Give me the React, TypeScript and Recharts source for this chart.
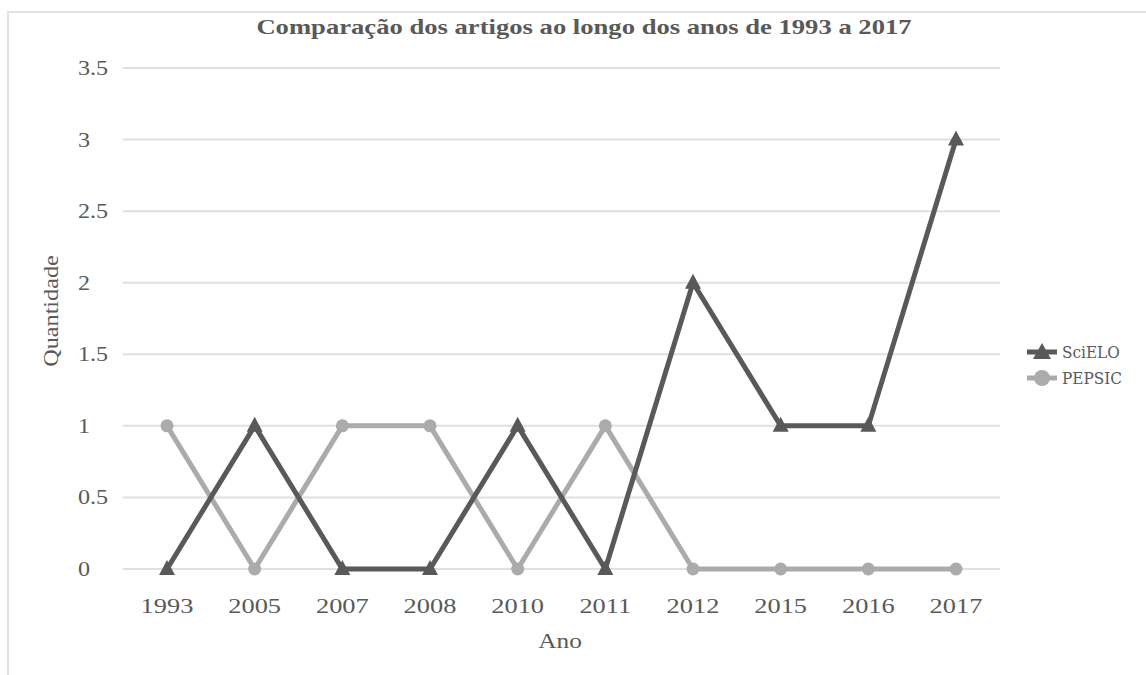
import React from 'react';
import { LineChart, Line, XAxis, YAxis, CartesianGrid } from 'recharts';

const years = ['1993', '2005', '2007', '2008', '2010', '2011', '2012', '2015', '2016', '2017'];
const scielo = [0, 1, 0, 0, 1, 0, 2, 1, 1, 3];
const pepsic = [1, 0, 1, 1, 0, 1, 0, 0, 0, 0];
const yTicks = [0, 0.5, 1, 1.5, 2, 2.5, 3, 3.5];

const DARK = '#595959';
const LIGHT = '#ababab';
const SERIF = '"Liberation Serif", "Times New Roman", serif';

const chartData = years.map((year, i) => ({ year, scielo: scielo[i], pepsic: pepsic[i] }));

const Triangle = (props: any) => {
  const { cx, cy } = props;
  if (cx == null || cy == null) return null;
  return <path d={`M${cx},${cy - 9} L${cx + 8},${cy + 6} L${cx - 8},${cy + 6} Z`} fill={DARK} />;
};

const Dot = (props: any) => {
  const { cx, cy } = props;
  if (cx == null || cy == null) return null;
  return <circle cx={cx} cy={cy} r={6.5} fill={LIGHT} />;
};

const XTick = ({ x, y, payload }: any) => (
  <text x={x} y={y + 36} textAnchor="middle" fill={DARK} fontSize={22} fontFamily={SERIF}
    transform={`translate(${x},0) scale(1.2,1) translate(${-x},0)`}>
    {payload.value}
  </text>
);

const YTick = ({ y, payload }: any) => (
  <text x={78} y={y + 7} textAnchor="start" fill={DARK} fontSize={21} fontFamily={SERIF}
    transform="translate(78,0) scale(1.15,1) translate(-78,0)">
    {payload.value}
  </text>
);

const legendItems = [
  { name: 'SciELO', color: DARK, shape: 'triangle' },
  { name: 'PEPSIC', color: LIGHT, shape: 'circle' },
];

export default function App() {
  return (
    <div style={{ position: 'fixed', left: 0, top: 0, width: 1146, height: 675, background: '#fff', overflow: 'hidden' }}>
      <div style={{
        position: 'absolute', left: 7, top: 11, right: -2, bottom: -2,
        borderTop: '2px solid #e3e3e3', borderLeft: '2px solid #e3e3e3',
      }} />
      <div style={{
        position: 'absolute', left: 0, width: 1168, top: 14, textAlign: 'center',
        fontFamily: SERIF, fontWeight: 700, fontSize: 22, color: DARK,
        transform: 'scaleX(1.21)', transformOrigin: '584px 0',
      }}>
        Comparação dos artigos ao longo dos anos de 1993 a 2017
      </div>
      <div style={{
        position: 'absolute', left: 51, top: 311, fontFamily: SERIF, fontSize: 22, color: DARK,
        transform: 'translate(-50%, -50%) rotate(-90deg) scaleX(1.1)', whiteSpace: 'nowrap',
      }}>
        Quantidade
      </div>
      <div style={{
        position: 'absolute', left: 560, top: 641, fontFamily: SERIF, fontSize: 22, color: DARK,
        transform: 'translate(-50%, -50%) scaleX(1.15)',
      }}>
        Ano
      </div>
      <div style={{ position: 'absolute', left: 0, top: 0 }}>
        <LineChart width={1146} height={675} data={chartData}
          margin={{ top: 68, right: 146, bottom: 76, left: 63 }}>
          <CartesianGrid vertical={false} stroke="#e0e0e0" strokeWidth={2} />
          <XAxis dataKey="year" height={30} axisLine={false} tickLine={false} tick={<XTick />}
            interval={0} padding={{ left: 44, right: 44 }} />
          <YAxis width={60} domain={[0, 3.5]} ticks={yTicks} axisLine={false} tickLine={false} tick={<YTick />} />
          <Line dataKey="pepsic" stroke={LIGHT} strokeWidth={5} dot={<Dot />} isAnimationActive={false} />
          <Line dataKey="scielo" stroke={DARK} strokeWidth={5} dot={<Triangle />} isAnimationActive={false} />
        </LineChart>
      </div>
      {legendItems.map((item, i) => (
        <div key={item.name} style={{ position: 'absolute', left: 1025, top: 340 + i * 26, height: 24, display: 'flex', alignItems: 'center' }}>
          <svg width={34} height={24}>
            <line x1={2} y1={12} x2={32} y2={12} stroke={item.color} strokeWidth={5} />
            {item.shape === 'triangle'
              ? <path d="M17,3 L26,19 L8,19 Z" fill={item.color} />
              : <circle cx={17} cy={12} r={8} fill={item.color} />}
          </svg>
          <span style={{
            fontFamily: '"DejaVu Serif Condensed", "DejaVu Serif", serif', fontStretch: 'condensed',
            fontSize: 17, color: DARK, marginLeft: 3,
          }}>
            {item.name}
          </span>
        </div>
      ))}
    </div>
  );
}
